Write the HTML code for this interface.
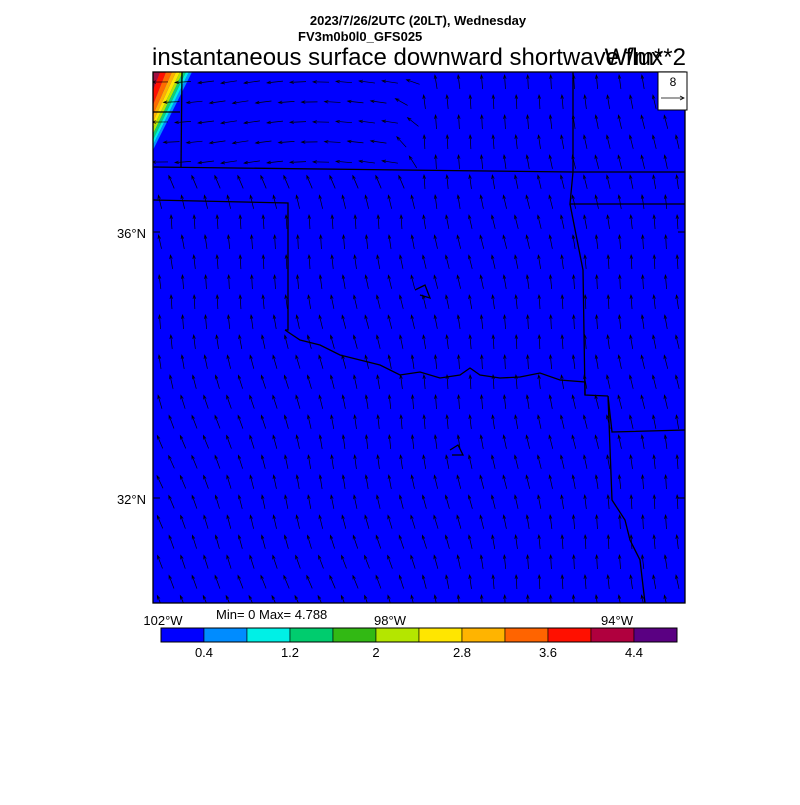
<!DOCTYPE html>
<html><head><style>
body{margin:0;background:#fff;width:800px;height:800px;overflow:hidden;font-family:"Liberation Sans",sans-serif}
</style></head><body>
<svg id="s" width="800" height="800" xmlns="http://www.w3.org/2000/svg" font-family="Liberation Sans, sans-serif">
<text x="418" y="25" font-size="13" font-weight="bold" text-anchor="middle">2023/7/26/2UTC (20LT), Wednesday</text>
<text x="298" y="41" font-size="13" font-weight="bold">FV3m0b0l0_GFS025</text>
<text x="152" y="65" font-size="24">instantaneous surface downward shortwave flux</text>
<text x="686" y="65" font-size="24" text-anchor="end">W/m**2</text>
<defs><clipPath id="c"><rect x="153" y="72" width="532" height="531"/></clipPath></defs>
<rect x="153" y="72" width="532" height="531" fill="#0000ff"/>
<g clip-path="url(#c)">
<polygon points="153,72 160,72 153,90" fill="#a01040"/>
<polygon points="160,72 166,72 153,105 153,90" fill="#ff1000"/>
<polygon points="166,72 172,72 153,115 153,105" fill="#ff6a00"/>
<polygon points="172,72 176,72 153,122 153,115" fill="#ffb000"/>
<polygon points="176,72 180,72 153,128 153,122" fill="#ffe600"/>
<polygon points="180,72 183,72 153,134 153,128" fill="#b0e800"/>
<polygon points="183,72 186,72 153,140 153,134" fill="#10d070"/>
<polygon points="186,72 189,72 153,145 153,140" fill="#00f0e0"/>
<polygon points="189,72 192,72 153,150 153,145" fill="#0090ff"/>
<g id="arr" stroke="#000" stroke-width="0.7" fill="none"></g>
<g stroke="#000" stroke-width="1.3" fill="none">
<polyline points="182,72 181,167"/>
<polyline points="153,112 180,112"/>
<polyline points="153,167 573,172 685,172"/>
<polyline points="573,72 573,172 570,204 685,204"/>
<polyline points="153,200 288,203 288,330 285,330"/>
<polyline points="285,330 300,340 320,345 340,355 360,360 380,365 400,375 420,372 440,378 460,375 470,368 480,375 500,378 520,377 540,373 560,380 585,382 585,395 608,396"/>
<polyline points="570,204 583,270 585,395"/>
<polyline points="608,396 612,432 685,430"/>
<polyline points="608,396 612,500 625,520 630,540 640,560 645,603"/>
<polyline points="415,290 425,285 430,298 420,295"/>
<polyline points="450,450 458,445 463,455 452,455"/>
</g>
</g>
<rect x="153" y="72" width="532" height="531" fill="none" stroke="#000" stroke-width="1.3"/>
<line x1="153" y1="232" x2="160" y2="232" stroke="#000"/><line x1="153" y1="498" x2="160" y2="498" stroke="#000"/>
<line x1="685" y1="232" x2="678" y2="232" stroke="#000"/><line x1="685" y1="498" x2="678" y2="498" stroke="#000"/>
<text x="146" y="238" font-size="13" text-anchor="end">36°N</text>
<text x="146" y="504" font-size="13" text-anchor="end">32°N</text>
<text x="163" y="625" font-size="13" text-anchor="middle">102°W</text>
<text x="390" y="625" font-size="13" text-anchor="middle">98°W</text>
<text x="617" y="625" font-size="13" text-anchor="middle">94°W</text>
<text x="216" y="619" font-size="13">Min= 0 Max= 4.788</text>
<rect x="658" y="72" width="29" height="38" fill="#fff" stroke="#000"/>
<text x="673" y="86" font-size="12" text-anchor="middle">8</text>
<line x1="661" y1="98" x2="684" y2="98" stroke="#000" stroke-width="0.8"/><polyline points="680,96 684,98 680,100" fill="none" stroke="#000" stroke-width="0.8"/>
<g id="cb"></g>
<rect x="161" y="628" width="516" height="14" fill="none" stroke="#000"/>
<g font-size="13" text-anchor="middle">
<text x="204" y="657">0.4</text><text x="290" y="657">1.2</text><text x="376" y="657">2</text><text x="462" y="657">2.8</text><text x="548" y="657">3.6</text><text x="634" y="657">4.4</text>
</g>
</svg>
<script>
var cols=["#0000ff","#008cff","#00f0e6","#00cc6e","#32b914","#b4e600","#ffe600","#ffb400","#ff6400","#ff1000","#b0003e","#5a0082"];
var ns="http://www.w3.org/2000/svg",cb=document.getElementById("cb");
cols.forEach(function(c,i){var r=document.createElementNS(ns,"rect");r.setAttribute("x",161+i*43);r.setAttribute("y",628);r.setAttribute("width",43);r.setAttribute("height",14);r.setAttribute("fill",c);r.setAttribute("stroke","#000");r.setAttribute("stroke-width","0.6");cb.appendChild(r);});
var g=document.getElementById("arr");
var row=0;
for(var y=82;y<603;y+=20,row++)for(var x=160+(row%2)*11.5;x<685;x+=23){
 var a=-Math.PI/2-0.15-0.35*Math.max(0,(y-300)/300)*Math.max(0,(500-x)/350)-0.1*Math.sin(x/60+y/40);
 var L=14;
 if(y<170&&x<400){a=Math.PI+0.15*Math.sin(x/50);L=16;}
 else if(y<230&&x<420){a=-Math.PI/2-0.5*(1-(y-170)/60);}
 var dx=Math.cos(a)*L,dy=Math.sin(a)*L;
 var x0=x-dx/2,y0=y-dy/2,x1=x+dx/2,y1=y+dy/2;
 var p=document.createElementNS(ns,"path");
 var h=4,b1=a+Math.PI-0.35,b2=a+Math.PI+0.35;
 p.setAttribute("d","M"+x0+" "+y0+"L"+x1+" "+y1+"M"+(x1+h*Math.cos(b1))+" "+(y1+h*Math.sin(b1))+"L"+x1+" "+y1+"L"+(x1+h*Math.cos(b2))+" "+(y1+h*Math.sin(b2)));
 g.appendChild(p);}
</script>
</body></html>
